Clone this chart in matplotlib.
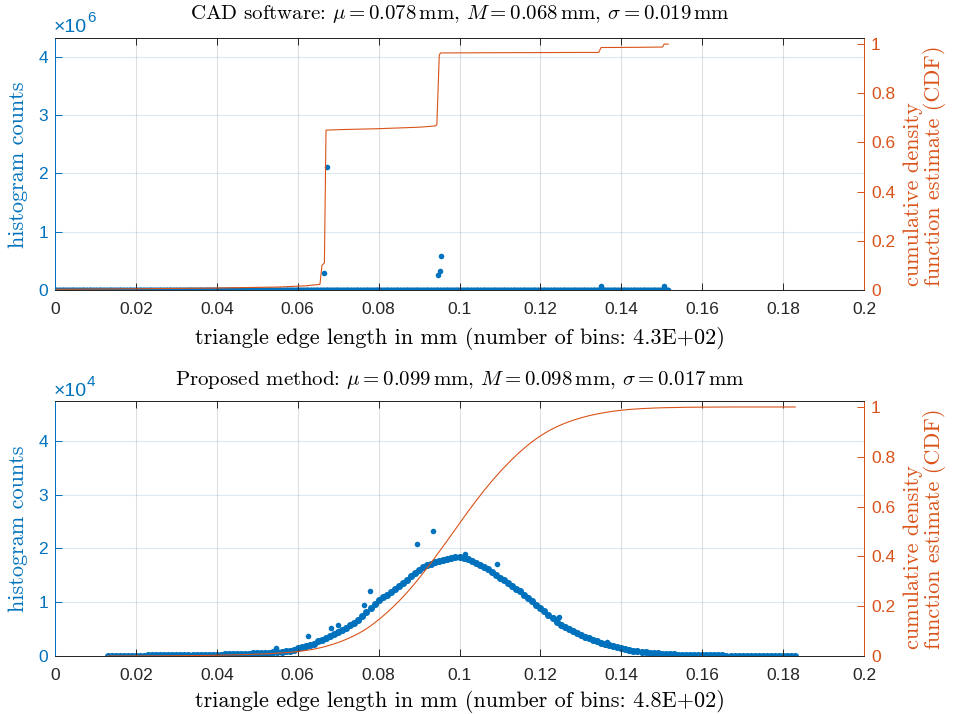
import numpy as np
import matplotlib
matplotlib.use('Agg')
import matplotlib.pyplot as plt

BLUE = '#0072BD'
ORANGE = '#D95319'
DARK = '#262626'

plt.rcParams['font.family'] = ['Liberation Sans', 'DejaVu Sans']
plt.rcParams['mathtext.fontset'] = 'cm'

# ---- top panel: CAD software ----
cad_bin_lo, cad_bin_hi, cad_nbins = 0.0002, 0.1516, 430   # bin centres span
cad_spike_x = [0.0666, 0.0673, 0.0948, 0.0951, 0.0954, 0.1350, 0.1506]
cad_spike_y = [0.29, 2.12, 0.26, 0.33, 0.58, 0.07, 0.07]   # x 1e6
cad_cdf_x = [0.0, 0.020, 0.040, 0.055, 0.062, 0.0655, 0.0660, 0.0666, 0.0670,
             0.0700, 0.0800, 0.0900, 0.0939, 0.0944, 0.0950, 0.0953, 0.1100,
             0.1300, 0.1344, 0.1350, 0.1450, 0.1502, 0.1506, 0.1516]
cad_cdf_y = [0.003, 0.005, 0.008, 0.012, 0.017, 0.023, 0.10, 0.11, 0.650,
             0.652, 0.656, 0.662, 0.667, 0.672, 0.955, 0.964, 0.965,
             0.966, 0.966, 0.986, 0.987, 0.988, 1.0, 1.0]

# ---- bottom panel: proposed method ----
prop_x = np.round(np.arange(0.013, 0.1835, 0.001), 3)
prop_counts = [  # x 1e4, one value per 0.001 mm from 0.013
    0.00, 0.00, 0.00, 0.00, 0.00, 0.00, 0.00, 0.00, 0.00, 0.00,
    0.01, 0.01, 0.01, 0.01, 0.01, 0.01, 0.01, 0.01, 0.01, 0.01,
    0.01, 0.01, 0.02, 0.02, 0.02, 0.02, 0.02, 0.02, 0.02, 0.03,
    0.03, 0.03, 0.03, 0.04, 0.04, 0.04, 0.05, 0.05, 0.05, 0.06,
    0.06, 0.07, 0.07, 0.08, 0.09, 0.10, 0.12, 0.14, 0.16, 0.18,
    0.20, 0.23, 0.27, 0.30, 0.34, 0.38, 0.41, 0.45, 0.49, 0.53,
    0.58, 0.62, 0.67, 0.74, 0.81, 0.89, 0.97, 1.04, 1.09, 1.14,
    1.19, 1.24, 1.30, 1.36, 1.42, 1.48, 1.55, 1.60, 1.65, 1.69,
    1.72, 1.75, 1.77, 1.79, 1.81, 1.83, 1.85, 1.84, 1.82, 1.80,
    1.77, 1.73, 1.69, 1.65, 1.61, 1.56, 1.51, 1.46, 1.41, 1.35,
    1.30, 1.25, 1.20, 1.14, 1.08, 1.02, 0.95, 0.89, 0.83, 0.77,
    0.70, 0.64, 0.58, 0.54, 0.50, 0.46, 0.42, 0.39, 0.36, 0.33,
    0.30, 0.27, 0.25, 0.23, 0.21, 0.19, 0.17, 0.15, 0.13, 0.12,
    0.10, 0.09, 0.08, 0.07, 0.06, 0.05, 0.05, 0.04, 0.04, 0.03,
    0.03, 0.02, 0.02, 0.02, 0.02, 0.01, 0.01, 0.01, 0.01, 0.01,
    0.01, 0.01, 0.01, 0.00, 0.00, 0.00, 0.00, 0.00, 0.00, 0.00,
    0.00, 0.00, 0.00, 0.00, 0.00, 0.00, 0.00, 0.00, 0.00, 0.00,
    0.00]
prop_out_x = [0.0546, 0.0625, 0.0682, 0.0700, 0.0763, 0.0779, 0.0896, 0.0935,
              0.1014, 0.1092, 0.1247, 0.1364]
prop_out_y = [0.155, 0.37, 0.53, 0.58, 0.94, 1.21, 2.08, 2.33, 1.90, 1.72,
              0.73, 0.26]

xticks = [0, 0.02, 0.04, 0.06, 0.08, 0.1, 0.12, 0.14, 0.16, 0.18, 0.2]
xticklabels = ['0', '0.02', '0.04', '0.06', '0.08', '0.1', '0.12', '0.14',
               '0.16', '0.18', '0.2']
cdf_ticks = [0, 0.2, 0.4, 0.6, 0.8, 1]
cdf_labels = ['0', '0.2', '0.4', '0.6', '0.8', '1']

W, H = 955, 714
fig = plt.figure(figsize=(W / 100, H / 100), dpi=100)


def fx(px):
    return px / W


def fy(py):
    return 1 - py / H


def setup(ax, ax2, scale, ymax, rmax):
    ax.set_xlim(0, 0.2)
    ax.set_ylim(0, ymax * scale)
    ax2.set_ylim(0, rmax)
    ax.set_xticks(xticks, xticklabels)
    ax.set_yticks([i * scale for i in range(5)], [str(i) for i in range(5)])
    ax2.set_yticks(cdf_ticks, cdf_labels)
    ax.tick_params(axis='x', direction='in', top=True, length=5, width=0.7,
                   colors=DARK, labelsize=12.5, pad=9)
    ax.tick_params(axis='y', direction='in', length=5, width=0.7,
                   colors=BLUE, labelsize=12.5, pad=5)
    ax2.tick_params(axis='y', direction='in', length=5, width=0.7,
                    colors=ORANGE, labelsize=12.5, pad=5)
    ax.grid(True, axis='x', color=DARK, alpha=0.15, linewidth=0.8)
    ax.grid(True, axis='y', color=BLUE, alpha=0.15, linewidth=0.8)
    for a in (ax, ax2):
        a.spines['top'].set_color(DARK)
        a.spines['bottom'].set_color(DARK)
        a.spines['left'].set_color(BLUE)
        a.spines['right'].set_color(ORANGE)
        for s in a.spines.values():
            s.set_linewidth(0.7)


# top panel
ax1 = fig.add_axes([fx(55), fy(290), fx(809), (290 - 37.7) / H])
ax1r = ax1.twinx()
setup(ax1, ax1r, 1e6, 4.331, 1.026)
cad_x = np.linspace(cad_bin_lo, cad_bin_hi, cad_nbins)
ax1.scatter(cad_x, np.zeros(cad_nbins), s=18, color=BLUE, linewidths=0)
ax1.scatter(cad_spike_x, np.array(cad_spike_y) * 1e6, s=16, color=BLUE,
            linewidths=0)
ax1r.plot(cad_cdf_x, cad_cdf_y, color=ORANGE, linewidth=0.8)

# bottom panel
ax2 = fig.add_axes([fx(55), fy(656), fx(809), (656 - 401) / H])
ax2r = ax2.twinx()
setup(ax2, ax2r, 1e4, 4.744, 1.024)
ax2.scatter(prop_x, np.array(prop_counts) * 1e4, s=26, color=BLUE,
            linewidths=0)
ax2.scatter(prop_out_x, np.array(prop_out_y) * 1e4, s=16, color=BLUE,
            linewidths=0)
cdf = np.cumsum(prop_counts) / np.sum(prop_counts)
ax2r.plot(prop_x, cdf, color=ORANGE, linewidth=0.8)

# texts
titles = [
    r'CAD software: $\mu = 0.078\,\mathrm{mm}$, $M = 0.068\,\mathrm{mm}$, '
    r'$\sigma = 0.019\,\mathrm{mm}$',
    r'Proposed method: $\mu = 0.099\,\mathrm{mm}$, $M = 0.098\,\mathrm{mm}$, '
    r'$\sigma = 0.017\,\mathrm{mm}$']
xlabels = ['triangle edge length in mm (number of bins: 4.3E+02)',
           'triangle edge length in mm (number of bins: 4.8E+02)']
exps = ['6', '4']
for i, off in enumerate([0, 363.3]):
    fig.text(fx(460), fy(14 + off + (3 if i else 0)), titles[i],
             ha='center', va='center', fontsize=15, family='cmr10',
             color='black')
    fig.text(fx(460), fy(338 + off), xlabels[i],
             ha='center', va='center', fontsize=16, family='cmr10',
             color='black')
    fig.text(fx(18), fy(161 + off + 4), 'histogram counts', rotation=90,
             ha='center', va='center', fontsize=16, family='cmr10',
             color=BLUE)
    fig.text(fx(925), fy(286 + off), 'cumulative density\nfunction estimate (CDF)',
             rotation=90, ha='center', va='bottom', multialignment='left',
             fontsize=16, family='cmr10', color=ORANGE, linespacing=1.0)
    fig.text(fx(54), fy(32.3 + off), '\u00d710', ha='left', va='baseline',
             fontsize=14, color=BLUE)
    fig.text(fx(87), fy(22.5 + off), exps[i], ha='left', va='baseline',
             fontsize=11, color=BLUE)

fig.savefig('out.png', dpi=100)
